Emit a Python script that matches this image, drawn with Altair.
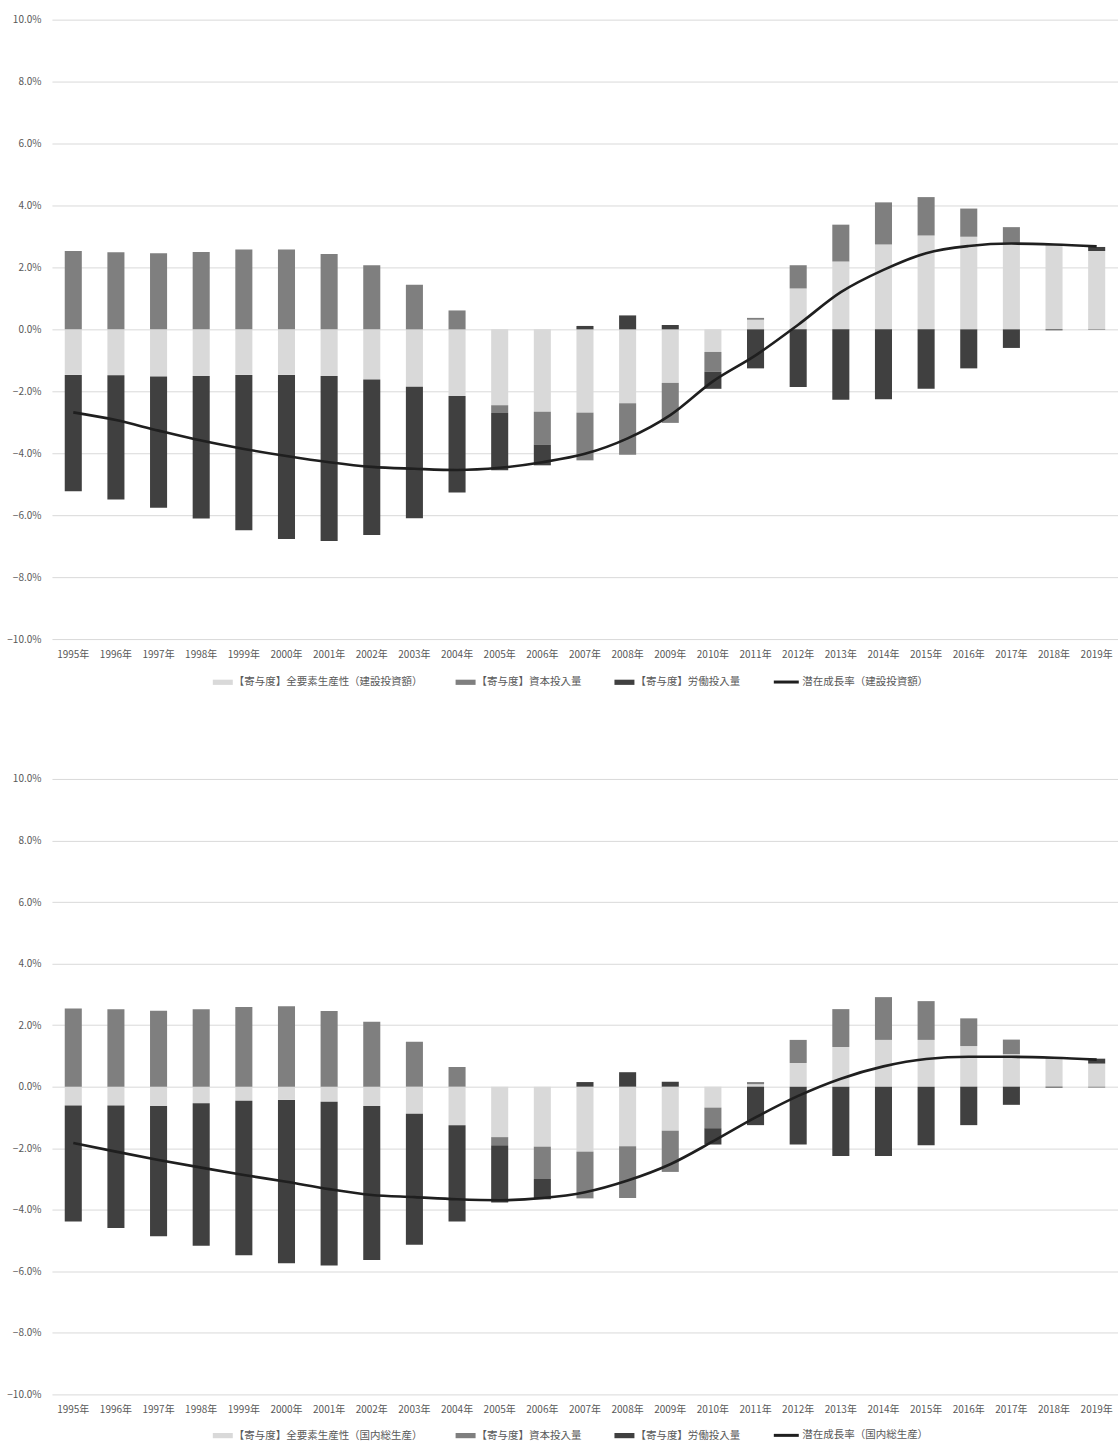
import altair as alt
import pandas as pd

# Fiscal years on the category axis
years = [f"{y}年" for y in range(1995, 2020)]

# Contributions to potential growth, construction investment basis (%)
tfp_const = [-1.47, -1.48, -1.52, -1.51, -1.47, -1.47, -1.51, -1.62, -1.85, -2.15,
             -2.45, -2.66, -2.69, -2.39, -1.73, -0.73, 0.31, 1.32, 2.19, 2.74,
             3.03, 2.99, 2.76, 2.72, 2.53]
cap_const = [2.53, 2.49, 2.46, 2.50, 2.58, 2.58, 2.43, 2.07, 1.44, 0.61,
             -0.25, -1.06, -1.54, -1.66, -1.29, -0.64, 0.06, 0.75, 1.19, 1.36,
             1.24, 0.91, 0.54, 0.03, -0.02]
lab_const = [-3.76, -4.01, -4.24, -4.60, -5.02, -5.30, -5.32, -5.02, -4.25, -3.12,
             -1.85, -0.67, 0.11, 0.45, 0.14, -0.55, -1.26, -1.86, -2.27, -2.26,
             -1.92, -1.26, -0.60, -0.03, 0.13]
pot_const = [-2.68, -2.93, -3.27, -3.59, -3.86, -4.09, -4.29, -4.44, -4.50, -4.54,
             -4.47, -4.29, -4.02, -3.52, -2.77, -1.68, -0.84, 0.15, 1.20, 1.92,
             2.46, 2.69, 2.77, 2.74, 2.68]

# Contributions to potential growth, GDP basis (%)
tfp_gdp = [-0.61, -0.61, -0.63, -0.54, -0.46, -0.43, -0.49, -0.63, -0.88, -1.25,
           -1.64, -1.95, -2.11, -1.94, -1.43, -0.68, 0.08, 0.77, 1.29, 1.52,
           1.52, 1.32, 1.06, 0.92, 0.75]
cap_gdp = [2.54, 2.52, 2.47, 2.52, 2.59, 2.61, 2.46, 2.11, 1.46, 0.64,
           -0.26, -1.05, -1.52, -1.68, -1.34, -0.67, 0.07, 0.75, 1.23, 1.39,
           1.26, 0.90, 0.47, 0.02, -0.03]
lab_gdp = [-3.77, -3.98, -4.23, -4.63, -5.02, -5.31, -5.32, -5.00, -4.26, -3.13,
           -1.86, -0.66, 0.15, 0.47, 0.16, -0.53, -1.25, -1.88, -2.25, -2.25,
           -1.90, -1.25, -0.59, -0.03, 0.16]
pot_gdp = [-1.83, -2.11, -2.38, -2.63, -2.87, -3.09, -3.33, -3.52, -3.59, -3.66,
           -3.69, -3.62, -3.43, -3.05, -2.52, -1.78, -1.00, -0.30, 0.26, 0.66,
           0.90, 0.97, 0.97, 0.94, 0.88]

CAP_NAME = "【寄与度】資本投入量"
LAB_NAME = "【寄与度】労働投入量"
BAR_COLORS = ["#d9d9d9", "#7f7f7f", "#404040"]
LINE_COLOR = "#1f1f1f"
FONT = "Noto Sans CJK JP"
TEXT = "#595959"

PLOT_LEFT = 51
# flat rectangle used as the legend swatch for the bar series
SWATCH = "M-1,-0.26L1,-0.26L1,0.26L-1,0.26Z"


def panel(tfp, cap, lab, pot, tfp_name, line_name, height, fill_leg_y, line_leg_y):
    names = [tfp_name, CAP_NAME, LAB_NAME]
    rows = []
    for i, yr in enumerate(years):
        for k, (name, vals) in enumerate(zip(names, [tfp, cap, lab])):
            rows.append({"year": yr, "series": name, "k": k, "v": vals[i]})
    bars_df = pd.DataFrame(rows)
    line_df = pd.DataFrame({"year": years, "series": line_name, "v": pot})

    x = alt.X(
        "year:N", sort=years, title=None,
        scale=alt.Scale(paddingInner=0.6, paddingOuter=0.3),
        axis=alt.Axis(labelAngle=0, domain=False, ticks=False, grid=False,
                      labelPadding=10),
    )
    y_axis = alt.Axis(
        values=list(range(-10, 11, 2)), grid=True, domain=False, ticks=False,
        labelPadding=11, labelExpr="format(datum.value / 100, '.1%')",
        title=None,
    )

    bars = alt.Chart(bars_df).mark_bar().encode(
        x=x,
        y=alt.Y("v:Q", stack="zero", scale=alt.Scale(domain=[-10, 10], nice=False),
                axis=y_axis),
        fill=alt.Fill(
            "series:N",
            scale=alt.Scale(domain=names, range=BAR_COLORS),
            sort=names,
            legend=alt.Legend(
                title=None, orient="none", direction="horizontal",
                legendX=212 - PLOT_LEFT, legendY=fill_leg_y,
                symbolType=SWATCH, symbolSize=400, symbolStrokeWidth=0,
                columnPadding=33, labelOffset=1, labelLimit=400,
            ),
        ),
        order=alt.Order("k:Q"),
    )

    line = alt.Chart(line_df).mark_line(
        interpolate="monotone", strokeWidth=2.6
    ).encode(
        x=alt.X("year:N", sort=years),
        y=alt.Y("v:Q"),
        stroke=alt.Stroke(
            "series:N",
            scale=alt.Scale(domain=[line_name], range=[LINE_COLOR]),
            legend=alt.Legend(
                title=None, orient="none", direction="horizontal",
                legendX=772 - PLOT_LEFT, legendY=line_leg_y,
                symbolType="stroke", symbolSize=625, symbolStrokeWidth=3,
                labelOffset=2, labelLimit=400,
            ),
        ),
    )

    return alt.layer(bars, line).properties(width=1067, height=height)


top = panel(tfp_const, cap_const, lab_const, pot_const,
            "【寄与度】全要素生産性（建設投資額）", "潜在成長率（建設投資額）",
            620, 653, 649)
bottom = panel(tfp_gdp, cap_gdp, lab_gdp, pot_gdp,
               "【寄与度】全要素生産性（国内総生産）", "潜在成長率（国内総生産）",
               616, 647, 643)

chart = alt.vconcat(top, bottom, spacing=86).resolve_scale(
    fill="independent", stroke="independent"
).resolve_legend(
    fill="independent", stroke="independent"
).properties(
    padding={"left": 6, "top": 14, "right": 0, "bottom": 0}
).configure_view(
    stroke=None
).configure_axis(
    gridColor="#d9d9d9", gridWidth=1, labelColor=TEXT, labelFont=FONT,
    labelFontSize=10,
).configure_axisY(
    minExtent=45, maxExtent=45,
).configure_legend(
    labelColor=TEXT, labelFont=FONT, labelFontSize=10.5, padding=0,
)

chart.save("out.html", embed_options={"renderer": "svg", "actions": False})
